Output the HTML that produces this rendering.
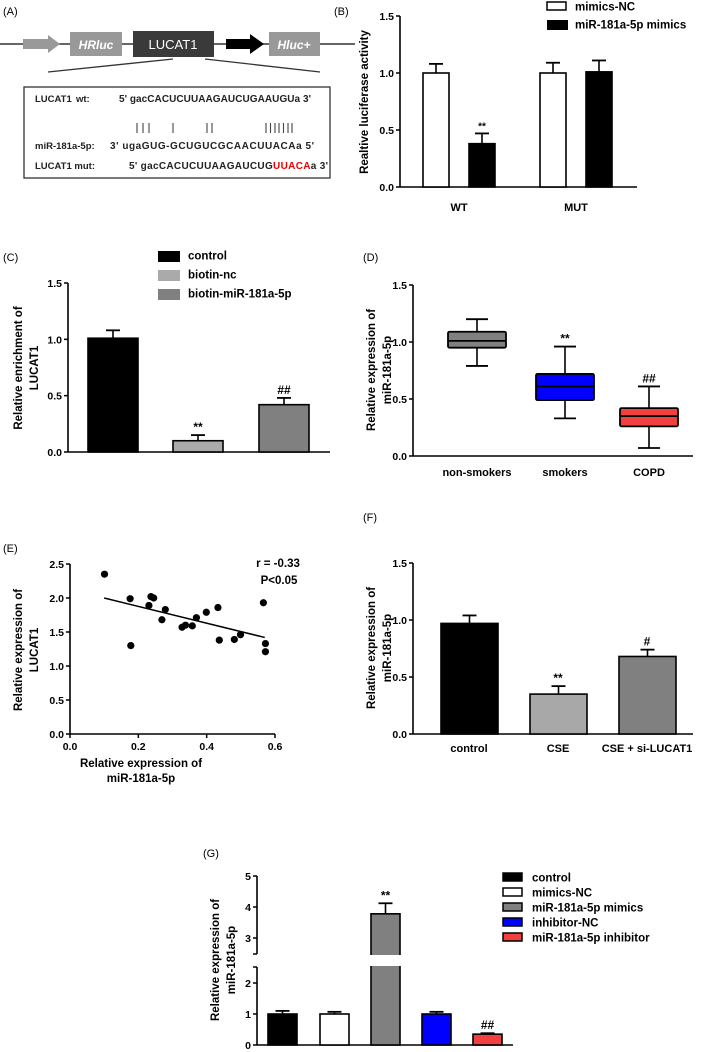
<!DOCTYPE html>
<html><head><meta charset="utf-8"><style>
body{margin:0;background:#fff}
svg{display:block;font-family:"Liberation Sans",Arial,sans-serif}
text{font-weight:bold}
</style></head><body>
<svg id="fig" width="709" height="1052" viewBox="0 0 709 1052" xmlns="http://www.w3.org/2000/svg">
<g>
<text x="3" y="15" font-size="11" style="font-weight:normal">(A)</text>
<line x1="0" y1="44" x2="355" y2="44" stroke="#333" stroke-width="1.5"/>
<polygon points="23,39 48,39 48,35 60,44 48,53 48,49 23,49" fill="#999"/>
<rect x="70" y="32" width="52" height="24" fill="#999"/>
<text x="96" y="49" font-size="12" fill="#fff" text-anchor="middle" font-style="italic">HRluc</text>
<rect x="133" y="31" width="81" height="26" fill="#3a3a3a"/>
<text x="173" y="49" font-size="13" fill="#fff" text-anchor="middle" style="font-weight:normal">LUCAT1</text>
<polygon points="226,39 250,39 250,34 264,44 250,54 250,49 226,49" fill="#000"/>
<rect x="269" y="32" width="51" height="24" fill="#999"/>
<text x="294" y="49" font-size="12" fill="#fff" text-anchor="middle" font-style="italic">Hluc+</text>
<line x1="173" y1="59" x2="48" y2="72" stroke="#333" stroke-width="1.3"/>
<line x1="205" y1="59" x2="320" y2="72" stroke="#333" stroke-width="1.3"/>
<rect x="24" y="87" width="306" height="91" fill="none" stroke="#333" stroke-width="1.3"/>
<g fill="#222">
<text x="35" y="102" font-size="9.5">LUCAT1</text>
<text x="76" y="102" font-size="9.5">wt:</text>
<text x="119" y="102" font-size="10" textLength="192">5' gacCACUCUUAAGAUCUGAAUGUa 3'</text>
<text x="35" y="149" font-size="9.5">miR-181a-5p:</text>
<text x="110" y="149" font-size="10" textLength="204">3' ugaGUG-GCUGUCGCAACUUACAa 5'</text>
<text x="35" y="169" font-size="9.5">LUCAT1 mut:</text>
<text x="129" y="169" font-size="10" textLength="199">5' gacCACUCUUAAGAUCUG<tspan fill="#e00">UUACA</tspan>a 3'</text>
</g>
<g stroke="#444" stroke-width="1.1">
<line x1="137" y1="123" x2="137" y2="133"/><line x1="143" y1="123" x2="143" y2="133"/><line x1="149" y1="123" x2="149" y2="133"/>
<line x1="173" y1="123" x2="173" y2="133"/>
<line x1="207" y1="123" x2="207" y2="133"/><line x1="212" y1="123" x2="212" y2="133"/>
<line x1="266" y1="123" x2="266" y2="133"/><line x1="270.5" y1="123" x2="270.5" y2="133"/><line x1="275" y1="123" x2="275" y2="133"/><line x1="279" y1="123" x2="279" y2="133"/><line x1="283.5" y1="123" x2="283.5" y2="133"/><line x1="288" y1="123" x2="288" y2="133"/><line x1="292" y1="123" x2="292" y2="133"/>
</g>
</g>
<g id="pB"></g>
<g id="pC"></g>
<g id="pD"></g>
<g id="pE"></g>
<g id="pF"></g>
<g id="pG"></g>
</svg>
<script>
// ---- data ----
const bGroups = ["WT","MUT"];
const bNC = [1.0, 1.0];
const bNCerr = [0.08, 0.09];
const bMim = [0.38, 1.01];
const bMimErr = [0.09, 0.10];
const bTicks = [0,0.5,1.0,1.5];

const cCats = ["control","biotin-nc","biotin-miR-181a-5p"];
const cVals = [1.01, 0.10, 0.42];
const cErr = [0.07, 0.05, 0.06];
const cMarks = ["","**","##"];

const dCats = ["non-smokers","smokers","COPD"];
const dMin = [0.79, 0.33, 0.07];
const dQ1 = [0.95, 0.49, 0.26];
const dMed = [1.01, 0.61, 0.35];
const dQ3 = [1.09, 0.72, 0.42];
const dMax = [1.20, 0.96, 0.61];
const dMarks = ["","**","##"];

const eX = [0.101,0.176,0.178,0.231,0.237,0.245,0.269,0.279,0.328,0.338,0.358,0.370,0.399,0.433,0.437,0.481,0.499,0.566,0.572,0.572];
const eY = [2.35,1.99,1.30,1.89,2.02,2.00,1.68,1.83,1.57,1.60,1.59,1.71,1.79,1.86,1.38,1.39,1.46,1.93,1.33,1.21];
const eFit = [[0.10,2.00],[0.57,1.42]];
const eXTicks = [0,0.2,0.4,0.6];
const eYTicks = [0,0.5,1.0,1.5,2.0,2.5];

const fCats = ["control","CSE","CSE + si-LUCAT1"];
const fVals = [0.97, 0.35, 0.68];
const fErr = [0.07, 0.07, 0.06];
const fMarks = ["","**","#"];

const gCats = ["control","mimics-NC","miR-181a-5p mimics","inhibitor-NC","miR-181a-5p inhibitor"];
const gVals = [1.0, 1.0, 3.78, 1.0, 0.35];
const gErr = [0.10, 0.07, 0.34, 0.07, 0.03];
const gMarks = ["","","**","","##"];
const gLowTicks = [0,1,2];
const gHighTicks = [3,4,5];

const NS="http://www.w3.org/2000/svg";
function el(p,tag,attrs,txt){const e=document.createElementNS(NS,tag);for(const k in attrs)e.setAttribute(k,attrs[k]);if(txt!==undefined)e.textContent=txt;p.appendChild(e);return e;}
function lin(d0,d1,r0,r1){return v=>r0+(v-d0)/(d1-d0)*(r1-r0);}
function fmt(v){return v.toFixed(1);}
function yAxis(g,x,y,ticks,top,bot,f){
  const a=el(g,'line',{x1:x,y1:top,x2:x,y2:bot,stroke:'#000','stroke-width':1.6});
  
  
  ticks.forEach(t=>{el(g,'line',{x1:x-4,y1:y(t),x2:x,y2:y(t),stroke:'#000','stroke-width':1.5});
    const tl=el(g,'text',{x:x-6,y:y(t)+4,'font-size':10.5,'text-anchor':'end'},f?f(t):fmt(t));
    
    });
}
function xAxis(g,y,x0,x1){const a=el(g,'line',{x1:x0,y1:y,x2:x1,y2:y,stroke:'#000','stroke-width':1.6});
  
  }
function bar(g,x,w,y0,yv,ye,fill,name){
  el(g,'line',{x1:x+w/2,y1:yv,x2:x+w/2,y2:ye,stroke:'#000','stroke-width':1.6});
  el(g,'line',{x1:x+w/2-7,y1:ye,x2:x+w/2+7,y2:ye,stroke:'#000','stroke-width':1.8});
  const r=el(g,'rect',{x:x,y:yv,width:w,height:y0-yv,fill:fill,stroke:'#000','stroke-width':1.6});
  
  
  return r;
}
function ytitle(g,cx,cy,lines){lines.forEach((l,i)=>{const t=el(g,'text',{x:0,y:0,'font-size':11.5,'text-anchor':'middle',transform:`translate(${cx+i*16},${cy}) rotate(-90)`},l);
  
  });}
function label(g,x,y,s){const t=el(g,'text',{x:x,y:y,'font-size':11,style:'font-weight:normal'},s);
  
  }
function legend(g,x,y,dy,items,tx){items.forEach((it,i)=>{const r=el(g,'rect',{x:x,y:y+i*dy,width:it.w||20,height:it.h||9,fill:it.fill,stroke:it.stroke||'none','stroke-width':1.5});
  
  
  const t=el(g,'text',{x:tx,y:y+i*dy+8.5,'font-size':11.5},it.label);
  
  });}

// ---- B ----
(function(){const g=document.getElementById('pB');label(g,334,15,'(B)');
 const y=lin(0,1.5,187,16);yAxis(g,400,y,bTicks,16,187);xAxis(g,187,400,637);
 const gx=[423,540];
 bGroups.forEach((c,i)=>{bar(g,gx[i],26,y(0),y(bNC[i]),y(bNC[i]+bNCerr[i]),'#fff','bar-nc-'+c);
  bar(g,gx[i]+46,26,y(0),y(bMim[i]),y(bMim[i]+bMimErr[i]),'#000','bar-mimics-'+c);
  const t=el(g,'text',{x:gx[i]+36,y:211,'font-size':11,'text-anchor':'middle'},c);
  
  });
 el(g,'text',{x:gx[0]+59,y:y(bMim[0]+bMimErr[0])-4,'font-size':10,'text-anchor':'middle'},'**');
 ytitle(g,368,102,['Realtive luciferase activity']);
 legend(g,547,2,18,[{fill:'#fff',stroke:'#000',label:'mimics-NC',w:19,h:8},{fill:'#000',label:'miR-181a-5p mimics',w:21,h:10}],575);
})();
// ---- C ----
(function(){const g=document.getElementById('pC');label(g,3,261,'(C)');
 const y=lin(0,1.5,452,283);yAxis(g,68,y,bTicks,283,452);xAxis(g,452,68,330);
 const xs=[88,173,259],cols=['#000','#aaa','#808080'];
 cCats.forEach((c,i)=>{bar(g,xs[i],50,y(0),y(cVals[i]),y(cVals[i]+cErr[i]),cols[i],'bar-'+c);
  if(cMarks[i])el(g,'text',{x:xs[i]+25,y:y(cVals[i]+cErr[i])-4,'font-size':12,'text-anchor':'middle'},cMarks[i]);});
 ytitle(g,22,368,['Relative enrichment of','LUCAT1']);
 legend(g,158,251,19,cCats.map((c,i)=>({fill:cols[i],label:c,w:22,h:11})),188);
})();
// ---- D ----
(function(){const g=document.getElementById('pD');label(g,363,261,'(D)');
 const y=lin(0,1.5,456,285);yAxis(g,413,y,bTicks,285,456);xAxis(g,456,413,693);
 const xs=[448,536,620],cols=['#808080','#0000ff','#f04040'];
 dCats.forEach((c,i)=>{const w=58,cx=xs[i]+w/2;
  el(g,'line',{x1:cx,y1:y(dMin[i]),x2:cx,y2:y(dMax[i]),stroke:'#000','stroke-width':1.6});
  el(g,'line',{x1:cx-11,y1:y(dMin[i]),x2:cx+11,y2:y(dMin[i]),stroke:'#000','stroke-width':1.8});
  el(g,'line',{x1:cx-11,y1:y(dMax[i]),x2:cx+11,y2:y(dMax[i]),stroke:'#000','stroke-width':1.8});
  const r=el(g,'rect',{x:xs[i],y:y(dQ3[i]),width:w,height:y(dQ1[i])-y(dQ3[i]),fill:cols[i],stroke:'#000','stroke-width':1.8,rx:1.5});
  
  
  el(g,'line',{x1:xs[i],y1:y(dMed[i]),x2:xs[i]+w,y2:y(dMed[i]),stroke:'#000','stroke-width':1.8});
  if(dMarks[i])el(g,'text',{x:cx,y:y(dMax[i])-4,'font-size':12,'text-anchor':'middle'},dMarks[i]);
  const t=el(g,'text',{x:cx,y:476,'font-size':11,'text-anchor':'middle'},c);
  
  });
 ytitle(g,375,370,['Relative expression of','miR-181a-5p']);
})();
// ---- E ----
(function(){const g=document.getElementById('pE');label(g,3,552,'(E)');
 const x=lin(0,0.6,70,275),y=lin(0,2.5,734,564);
 yAxis(g,70,y,eYTicks,564,734);xAxis(g,734,70,275);
 eXTicks.forEach(t=>{el(g,'line',{x1:x(t),y1:734,x2:x(t),y2:738,stroke:'#000','stroke-width':1.5});
  const tl=el(g,'text',{x:x(t),y:750,'font-size':10.5,'text-anchor':'middle'},fmt(t));
  
  });
 const fl=el(g,'line',{x1:x(eFit[0][0]),y1:y(eFit[0][1]),x2:x(eFit[1][0]),y2:y(eFit[1][1]),stroke:'#000','stroke-width':1.5});
 
 
 eX.forEach((v,i)=>{const c=el(g,'circle',{cx:x(v),cy:y(eY[i]),r:3.6,fill:'#000'});
  
  });
 el(g,'text',{x:278,y:567,'font-size':11.5,'text-anchor':'middle'},'r = -0.33');
 el(g,'text',{x:279,y:584,'font-size':11.5,'text-anchor':'middle'},'P<0.05');
 ytitle(g,22,650,['Relative expression of','LUCAT1']);
 ['Relative expression of','miR-181a-5p'].forEach((l,i)=>{const t=el(g,'text',{x:141,y:767+i*15,'font-size':11.5,'text-anchor':'middle'},l);
  
  });
})();
// ---- F ----
(function(){const g=document.getElementById('pF');label(g,363,521,'(F)');
 const y=lin(0,1.5,734,563);yAxis(g,413,y,bTicks,563,734);xAxis(g,734,413,693);
 const xs=[441,530,619],cols=['#000','#a8a8a8','#808080'];
 fCats.forEach((c,i)=>{bar(g,xs[i],57,y(0),y(fVals[i]),y(fVals[i]+fErr[i]),cols[i],'bar-'+c);
  if(fMarks[i])el(g,'text',{x:xs[i]+28,y:y(fVals[i]+fErr[i])-4,'font-size':12,'text-anchor':'middle'},fMarks[i]);
  const t=el(g,'text',{x:xs[i]+28,y:752,'font-size':11,'text-anchor':'middle'},c);
  
  });
 ytitle(g,375,648,['Relative expression of','miR-181a-5p']);
})();
// ---- G ----
(function(){const g=document.getElementById('pG');label(g,203,857,'(G)');
 const yl=lin(0,2,1045,983),yh=lin(3,5,938,876);
 const Y=v=>v<=2.5?yl(v):yh(v);
 const f=t=>String(t);
 yAxis(g,257,yl,gLowTicks,967,1045,f);yAxis(g,257,yh,gHighTicks,876,954,f);
 el(g,'line',{x1:253,y1:954,x2:257,y2:954,stroke:'#000','stroke-width':1.5});
 el(g,'line',{x1:253,y1:967,x2:257,y2:967,stroke:'#000','stroke-width':1.5});
 xAxis(g,1045,257,513);
 const xs=[268,320,371,422,473],cols=['#000','#fff','#808080','#0000ff','#f04040'];
 gCats.forEach((c,i)=>{bar(g,xs[i],29,1045,Y(gVals[i]),Y(gVals[i]+gErr[i]),cols[i],'bar-'+c);
  if(gMarks[i])el(g,'text',{x:xs[i]+14.5,y:Y(gVals[i]+gErr[i])-4,'font-size':12,'text-anchor':'middle'},gMarks[i]);});
 el(g,'rect',{x:365,y:955,width:42,height:11,fill:'#fff'});
 ytitle(g,219,960,['Relative expression of','miR-181a-5p']);
 legend(g,503,873,15,gCats.map((c,i)=>({fill:cols[i],stroke:'#000',label:c,w:19,h:8})),532);
})();
</script>
</body></html>
